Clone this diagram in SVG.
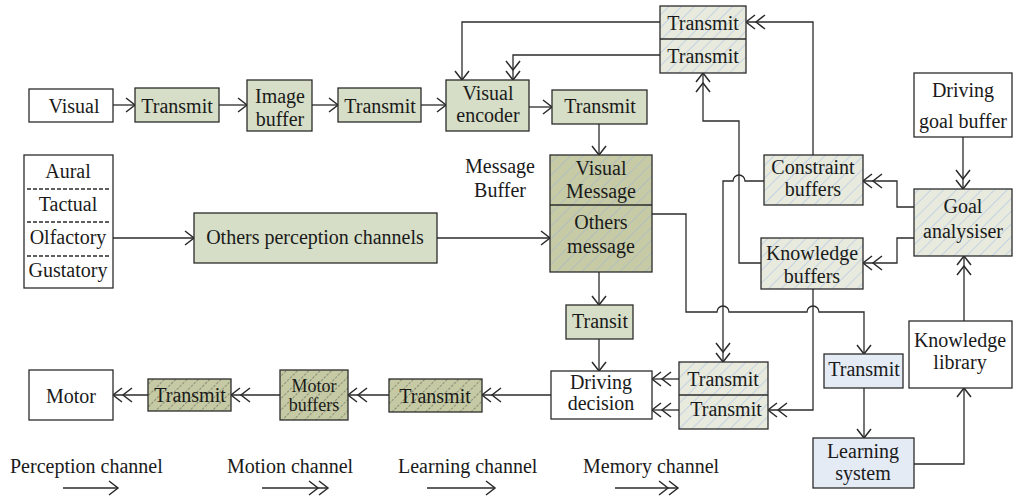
<svg xmlns="http://www.w3.org/2000/svg" width="1013" height="498" viewBox="0 0 1013 498">
  <style>
    text { font-family: "Liberation Serif", "Times New Roman", serif; font-size: 20px; fill: #1a1a1a; text-anchor: middle; }
    .lg { text-anchor: start; }
    .sm { font-size: 18px; }
    .box { stroke: #2b2b2b; stroke-width: 1.3; }
    .plain { fill: #ffffff; }
    .perc { fill: #d6dec7; }
    .blue { fill: #e4ebf5; }
    .light { fill: url(#hatchLight); }
    .msg { fill: url(#hatchMsg); }
    .dark { fill: url(#hatchDark); }
    .sep { stroke: #2b2b2b; stroke-width: 1.3; stroke-dasharray: 4 2; fill: none; }
    .div { stroke: #2b2b2b; stroke-width: 1.3; }
    #connectors path { fill: none; stroke: #2b2b2b; stroke-width: 1.3; }
    .s { marker-end: url(#one); }
    .d { marker-end: url(#two); }
  </style>
  <defs>
    <pattern id="hatchLight" width="9" height="9" patternUnits="userSpaceOnUse" patternTransform="rotate(45)">
      <rect width="9" height="9" fill="#e7eadc"/>
      <line x1="0" y1="0" x2="0" y2="9" stroke="#b3c6ea" stroke-width="1.3"/>
    </pattern>
    <pattern id="hatchMsg" width="9" height="9" patternUnits="userSpaceOnUse" patternTransform="rotate(45)">
      <rect width="9" height="9" fill="#c6cba5"/>
      <line x1="0" y1="0" x2="0" y2="9" stroke="#a9b9c9" stroke-width="1.4"/>
    </pattern>
    <pattern id="hatchDark" width="8" height="8" patternUnits="userSpaceOnUse" patternTransform="rotate(45)">
      <rect width="8" height="8" fill="#c5caa4"/>
      <line x1="0" y1="0" x2="0" y2="8" stroke="#4a4a4a" stroke-width="1" stroke-dasharray="2.5 1.5"/>
    </pattern>
    <marker id="one" markerUnits="userSpaceOnUse" markerWidth="16" markerHeight="18" refX="10" refY="8" orient="auto" overflow="visible">
      <path d="M1,1 L10,8 L1,15" fill="none" stroke="#2b2b2b" stroke-width="1.5"/>
    </marker>
    <marker id="two" markerUnits="userSpaceOnUse" markerWidth="24" markerHeight="18" refX="20" refY="8" orient="auto" overflow="visible">
      <path d="M1,1 L10,8 L1,15 M11,1 L20,8 L11,15" fill="none" stroke="#2b2b2b" stroke-width="1.5"/>
    </marker>
  </defs>

  <!-- connectors -->
  <g id="connectors">
    <path class="s" d="M113,105 H135"/>
    <path class="s" d="M219,105 H247"/>
    <path class="s" d="M312,105 H338"/>
    <path class="s" d="M421,105 H446"/>
    <path class="s" d="M529,107 H552"/>
    <path class="s" d="M599,124 V155"/>
    <path class="s" d="M660,22 H462 V80"/>
    <path class="d" d="M660,55 H513 V80"/>
    <path class="d" d="M813,155 V22 H746"/>
    <path class="d" d="M761,263 H739 V121 H703 V73"/>
    <path class="d" d="M764,181 H745 A6,6 0 0 0 733,181 H723 V362"/>
    <path class="d" d="M813,289 V410 H768"/>
    <path class="s" d="M652,214 H686 V312 H717 A6,6 0 0 1 729,312 H807 A6,6 0 0 1 819,312 H864 V354"/>
    <path class="s" d="M864,388 V438"/>
    <path class="s" d="M914,464 H964 V388"/>
    <path class="d" d="M964,321 V256"/>
    <path class="d" d="M963,137 V189"/>
    <path class="d" d="M914,207 H897 V181 H863"/>
    <path class="d" d="M914,238 H897 V263 H863"/>
    <path class="s" d="M113,238 H194"/>
    <path class="s" d="M437,238 H550"/>
    <path class="s" d="M599,272 V305"/>
    <path class="s" d="M599,339 V371"/>
    <path class="d" d="M679,379 H652"/>
    <path class="d" d="M679,410 H652"/>
    <path class="d" d="M551,395 H482"/>
    <path class="d" d="M389,395 H348"/>
    <path class="d" d="M280,395 H231"/>
    <path class="d" d="M148,395 H113"/>
    <!-- legend arrows -->
    <path class="s" d="M63,488 H118"/>
    <path class="d" d="M262,488 H328"/>
    <path class="s" d="M427,488 H495"/>
    <path class="d" d="M615,488 H678"/>
  </g>

  <!-- perception channel -->
  <g id="visual">
    <rect class="box plain" x="29" y="89" width="84" height="33"/>
    <text x="74" y="113">Visual</text>
  </g>
  <g id="transmit-1">
    <rect class="box perc" x="135" y="88" width="84" height="34"/>
    <text x="177" y="113">Transmit</text>
  </g>
  <g id="image-buffer">
    <rect class="box perc" x="247" y="80" width="65" height="51"/>
    <text x="280" y="103">Image</text>
    <text x="280" y="126">buffer</text>
  </g>
  <g id="transmit-2">
    <rect class="box perc" x="338" y="88" width="83" height="34"/>
    <text x="380" y="113">Transmit</text>
  </g>
  <g id="visual-encoder">
    <rect class="box perc" x="446" y="80" width="83" height="51"/>
    <text x="488" y="100">Visual</text>
    <text x="488" y="122">encoder</text>
  </g>
  <g id="transmit-3">
    <rect class="box perc" x="552" y="90" width="95" height="34"/>
    <text x="600" y="113">Transmit</text>
  </g>
  <g id="top-transmits">
    <rect class="box light" x="660" y="6" width="86" height="67"/>
    <line class="div" x1="660" y1="39" x2="746" y2="39"/>
    <text x="703" y="30">Transmit</text>
    <text x="703" y="63">Transmit</text>
  </g>
  <g id="senses">
    <rect class="box plain" x="24" y="155" width="89" height="133"/>
    <line class="sep" x1="27" y1="189" x2="111" y2="189"/>
    <line class="sep" x1="27" y1="222" x2="111" y2="222"/>
    <line class="sep" x1="27" y1="256" x2="111" y2="256"/>
    <text x="68" y="178">Aural</text>
    <text x="68" y="211">Tactual</text>
    <text x="68" y="244">Olfactory</text>
    <text x="68" y="277">Gustatory</text>
  </g>
  <g id="others-perception">
    <rect class="box perc" x="194" y="213" width="243" height="50"/>
    <text x="315" y="244">Others perception channels</text>
  </g>
  <g id="message-buffer">
    <text x="500" y="173">Message</text>
    <text x="500" y="197">Buffer</text>
    <rect class="box msg" x="550" y="155" width="102" height="117"/>
    <line class="div" x1="550" y1="205" x2="652" y2="205"/>
    <text x="601" y="175">Visual</text>
    <text x="601" y="198">Message</text>
    <text x="601" y="229">Others</text>
    <text x="601" y="253">message</text>
  </g>
  <g id="transit">
    <rect class="box perc" x="566" y="305" width="67" height="34"/>
    <text x="600" y="328">Transit</text>
  </g>

  <!-- memory and goal -->
  <g id="constraint-buffers">
    <rect class="box light" x="764" y="155" width="99" height="50"/>
    <text x="813" y="174">Constraint</text>
    <text x="813" y="196">buffers</text>
  </g>
  <g id="knowledge-buffers">
    <rect class="box light" x="761" y="238" width="102" height="51"/>
    <text x="812" y="260">Knowledge</text>
    <text x="812" y="283">buffers</text>
  </g>
  <g id="driving-goal-buffer">
    <rect class="box plain" x="914" y="73" width="98" height="64"/>
    <text x="963" y="97">Driving</text>
    <text x="963" y="128">goal buffer</text>
  </g>
  <g id="goal-analyser">
    <rect class="box light" x="914" y="189" width="98" height="67"/>
    <text x="963" y="213">Goal</text>
    <text x="963" y="238">analysiser</text>
  </g>
  <g id="knowledge-library">
    <rect class="box plain" x="909" y="321" width="103" height="67"/>
    <text x="960" y="347">Knowledge</text>
    <text x="960" y="369">library</text>
  </g>
  <g id="transmit-learning">
    <rect class="box blue" x="824" y="354" width="79" height="34"/>
    <text x="864" y="376">Transmit</text>
  </g>
  <g id="learning-system">
    <rect class="box blue" x="813" y="438" width="101" height="50"/>
    <text x="863" y="458">Learning</text>
    <text x="863" y="480">system</text>
  </g>
  <g id="bottom-transmits">
    <rect class="box light" x="679" y="362" width="89" height="67"/>
    <line class="div" x1="679" y1="395" x2="768" y2="395"/>
    <text x="723" y="386">Transmit</text>
    <text x="726" y="416">Transmit</text>
  </g>

  <!-- motion channel -->
  <g id="driving-decision">
    <rect class="box plain" x="551" y="371" width="101" height="48"/>
    <text x="601" y="389">Driving</text>
    <text x="601" y="410">decision</text>
  </g>
  <g id="transmit-motion-2">
    <rect class="box dark" x="389" y="379" width="93" height="33"/>
    <text x="435" y="403">Transmit</text>
  </g>
  <g id="motor-buffers">
    <rect class="box dark" x="280" y="370" width="68" height="50"/>
    <text class="sm" x="314" y="392">Motor</text>
    <text class="sm" x="314" y="411">buffers</text>
  </g>
  <g id="transmit-motion-1">
    <rect class="box dark" x="148" y="379" width="83" height="32"/>
    <text x="190" y="402">Transmit</text>
  </g>
  <g id="motor">
    <rect class="box plain" x="29" y="370" width="84" height="50"/>
    <text x="71" y="403">Motor</text>
  </g>

  <!-- legend -->
  <g id="legend">
    <text class="lg" x="10" y="473">Perception channel</text>
    <text class="lg" x="227" y="473">Motion channel</text>
    <text class="lg" x="398" y="473">Learning channel</text>
    <text class="lg" x="583" y="473">Memory channel</text>
  </g>
</svg>
